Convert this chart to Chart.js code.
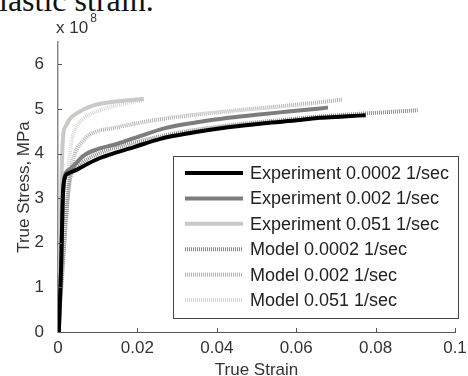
<!DOCTYPE html>
<html lang="en">
<head>
<meta charset="UTF-8">
<title>True Stress vs True Strain</title>
<script src="https://cdn.jsdelivr.net/npm/chart.js"></script>
<style>
  body { margin: 0; background: #fff; }
  .wrap { position: relative; width: 468px; height: 376px; overflow: hidden; }
  .wrap canvas { position: absolute; left: 0; top: 0; }
  .cut { position: absolute; left: -1px; top: -16px; font-family: "Liberation Serif", "Times New Roman", serif;
         font-size: 32px; line-height: 32px; color: #111; white-space: nowrap; }
</style>
</head>
<body>
<div class="wrap">
  <div class="cut">lastic strain.</div>
  <canvas id="stressChart" width="468" height="376"></canvas>
</div>
<script>
// tick labels
const xTicks = [0, 0.02, 0.04, 0.06, 0.08, 0.1];
const yTicks = [0, 1, 2, 3, 4, 5, 6];

const seriesLabels = [
  'Experiment 0.0002 1/sec',
  'Experiment 0.002 1/sec',
  'Experiment 0.051 1/sec',
  'Model 0.0002 1/sec',
  'Model 0.002 1/sec',
  'Model 0.051 1/sec'
];

// true strain / true stress (x 10^8 Pa)
const expSlowStrain = [0.0002, 0.0008, 0.0012, 0.0017, 0.0025, 0.0048, 0.0075, 0.0106, 0.015, 0.019, 0.0258, 0.034, 0.0428, 0.052, 0.061, 0.066, 0.072, 0.0775];
const expSlowStress = [0, 1.5, 3.0, 3.45, 3.55, 3.64, 3.77, 3.9, 4.03, 4.14, 4.33, 4.47, 4.59, 4.68, 4.75, 4.8, 4.83, 4.86];

const expMidStrain = [0.0002, 0.0008, 0.0012, 0.0017, 0.003, 0.0064, 0.01, 0.015, 0.02, 0.027, 0.035, 0.043, 0.05, 0.058, 0.066, 0.068];
const expMidStress = [0, 1.5, 3.0, 3.5, 3.65, 3.95, 4.1, 4.22, 4.37, 4.57, 4.7, 4.8, 4.87, 4.94, 5.01, 5.03];

const expFastStrain = [0.0002, 0.0006, 0.0009, 0.0013, 0.002, 0.003, 0.0047, 0.0089, 0.015, 0.0216];
const expFastStress = [0, 1.5, 3.5, 4.4, 4.62, 4.78, 4.9, 5.08, 5.17, 5.22];

const modelSlowStrain = [0, 0.001, 0.002, 0.0028, 0.0035, 0.005, 0.01, 0.02, 0.03, 0.043, 0.055, 0.066, 0.0775, 0.085, 0.0906];
const modelSlowStress = [0, 1.2, 2.5, 3.3, 3.58, 3.73, 3.99, 4.26, 4.46, 4.63, 4.74, 4.83, 4.9, 4.94, 4.97];

const modelMidStrain = [0, 0.001, 0.002, 0.003, 0.0043, 0.0065, 0.0081, 0.015, 0.0258, 0.043, 0.055, 0.066, 0.0716];
const modelMidStress = [0, 1.3, 2.6, 3.5, 4.0, 4.3, 4.43, 4.59, 4.77, 4.95, 5.05, 5.15, 5.21];

const modelFastStrain = [0, 0.001, 0.002, 0.0028, 0.0035, 0.0043, 0.0064, 0.0106, 0.0175, 0.0215];
const modelFastStress = [0, 1.4, 2.8, 3.8, 4.3, 4.55, 4.78, 4.97, 5.13, 5.2];

function pts(xs, ys) {
  return xs.map((x, i) => ({ x: x, y: ys[i] }));
}

const FONT = '"Liberation Sans", Arial, sans-serif';

function line(label, xs, ys, color, dash) {
  return {
    label: label,
    data: pts(xs, ys),
    borderColor: color,
    borderWidth: 4,
    borderDash: dash || [],
    pointRadius: 0,
    fill: false,
    cubicInterpolationMode: 'monotone'
  };
}

// inward tick marks, the x10^8 note and the boxed legend
const extras = {
  id: 'extras',
  afterDraw(chart) {
    const { ctx, chartArea, scales } = chart;
    const x = scales.x, y = scales.y;
    ctx.save();
    ctx.strokeStyle = '#555';
    ctx.lineWidth = 1;
    xTicks.slice(1).forEach(v => {
      const px = Math.round(x.getPixelForValue(v)) + 0.5;
      ctx.beginPath();
      ctx.moveTo(px, chartArea.bottom);
      ctx.lineTo(px, chartArea.bottom - 4);
      ctx.stroke();
    });
    yTicks.slice(1).forEach(v => {
      const py = Math.round(y.getPixelForValue(v)) + 0.5;
      ctx.beginPath();
      ctx.moveTo(chartArea.left, py);
      ctx.lineTo(chartArea.left + 4, py);
      ctx.stroke();
    });

    // exponent note
    ctx.fillStyle = '#333';
    ctx.textBaseline = 'middle';
    ctx.textAlign = 'left';
    ctx.font = '17px ' + FONT;
    ctx.fillText('x 10', 56, 28);
    const w = ctx.measureText('x 10').width;
    ctx.font = '12px ' + FONT;
    ctx.fillText('8', 56 + w + 2, 19);

    // legend
    const box = { left: 173, top: 156, right: 458, bottom: 318 };
    ctx.fillStyle = '#fff';
    ctx.fillRect(box.left, box.top, box.right - box.left, box.bottom - box.top);
    ctx.strokeStyle = '#444';
    ctx.lineWidth = 1;
    ctx.strokeRect(box.left + 0.5, box.top + 0.5, box.right - box.left, box.bottom - box.top);
    ctx.font = '18px ' + FONT;
    chart.data.datasets.forEach((ds, i) => {
      const ry = 173 + i * 25.4;
      ctx.save();
      ctx.strokeStyle = ds.borderColor;
      ctx.lineWidth = ds.borderWidth;
      ctx.setLineDash(ds.borderDash);
      ctx.beginPath();
      ctx.moveTo(185, ry);
      ctx.lineTo(243, ry);
      ctx.stroke();
      ctx.restore();
      ctx.fillStyle = '#222';
      ctx.fillText(ds.label, 250, ry + 1);
    });
    ctx.restore();
  }
};

new Chart(document.getElementById('stressChart'), {
  type: 'line',
  data: {
    datasets: [
      line(seriesLabels[0], expSlowStrain, expSlowStress, '#000000'),
      line(seriesLabels[1], expMidStrain, expMidStress, '#7d7d7d'),
      line(seriesLabels[2], expFastStrain, expFastStress, '#c9cac6'),
      line(seriesLabels[3], modelSlowStrain, modelSlowStress, '#8e8e8e', [1, 1]),
      line(seriesLabels[4], modelMidStrain, modelMidStress, '#b2b2b2', [1, 1]),
      line(seriesLabels[5], modelFastStrain, modelFastStress, '#d8d8d8', [1, 1])
    ]
  },
  options: {
    responsive: false,
    animation: false,
    devicePixelRatio: 1,
    layout: { padding: { left: 0, right: 13, top: 42, bottom: 0 } },
    plugins: { legend: { display: false }, tooltip: { enabled: false } },
    scales: {
      x: {
        type: 'linear',
        min: 0,
        max: 0.1,
        afterBuildTicks: s => { s.ticks = xTicks.map(v => ({ value: v })); },
        afterFit: s => { s.height = 44; },
        grid: { display: false },
        border: { display: true, color: '#555', width: 1 },
        ticks: {
          autoSkip: false,
          maxRotation: 0,
          padding: -1.5,
          color: '#333',
          font: { family: FONT, size: 17 },
          callback: v => String(v)
        },
        title: {
          display: true,
          text: 'True Strain',
          color: '#333',
          font: { family: FONT, size: 17 },
          padding: { top: 0, bottom: -4.2 }
        }
      },
      y: {
        type: 'linear',
        min: 0,
        max: 6.5,
        afterBuildTicks: s => { s.ticks = yTicks.map(v => ({ value: v })); },
        afterFit: s => { s.width = 58; },
        grid: { display: false },
        border: { display: true, color: '#8a8a8a', width: 1.5 },
        ticks: {
          padding: 6,
          color: '#333',
          font: { family: FONT, size: 17 },
          callback: v => String(v)
        },
        title: {
          display: true,
          text: 'True Stress, MPa',
          color: '#333',
          font: { family: FONT, size: 17 },
          padding: { top: 14.5, bottom: 0 }
        }
      }
    }
  },
  plugins: [extras]
});
</script>
</body>
</html>
